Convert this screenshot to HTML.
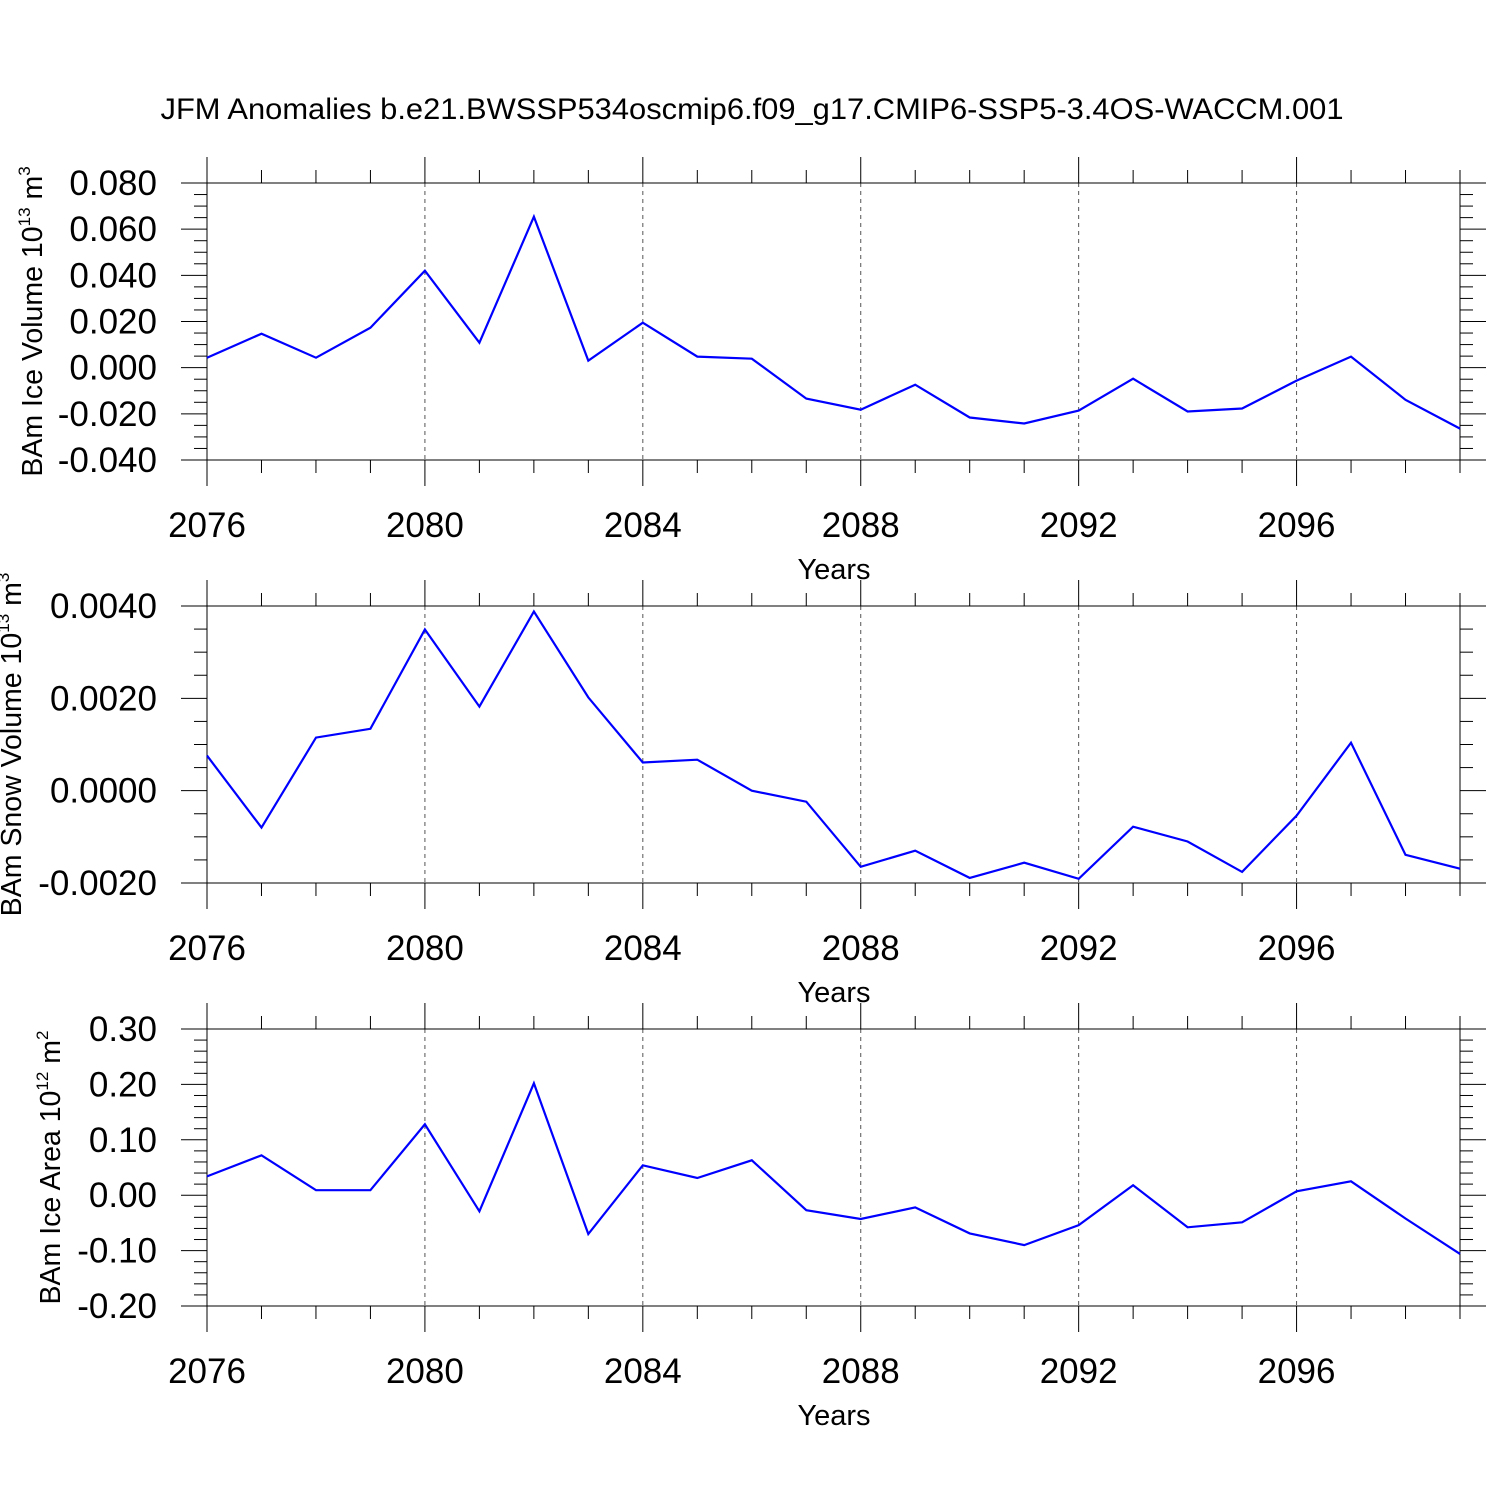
<!DOCTYPE html>
<html><head><meta charset="utf-8"><style>
html,body{margin:0;padding:0;background:#fff;}
svg{display:block;font-family:"Liberation Sans",sans-serif;}
</style></head><body>
<svg id="chart" width="1500" height="1500" viewBox="0 0 1500 1500" xmlns="http://www.w3.org/2000/svg">
<rect width="1500" height="1500" fill="#fff"/>
<text x="752" y="119" font-size="30" text-anchor="middle" textLength="1183" lengthAdjust="spacingAndGlyphs">JFM Anomalies b.e21.BWSSP534oscmip6.f09_g17.CMIP6-SSP5-3.4OS-WACCM.001</text>
</svg>
<script>
const years = [2076,2077,2078,2079,2080,2081,2082,2083,2084,2085,2086,2087,2088,2089,2090,2091,2092,2093,2094,2095,2096,2097,2098,2099];
const xTickLabels = ["2076","2080","2084","2088","2092","2096"];
const iceVolume = [0.0043,0.0147,0.0043,0.0173,0.042,0.0108,0.0654,0.003,0.0195,0.0048,0.0039,-0.0134,-0.0182,-0.0074,-0.0216,-0.0242,-0.0186,-0.0048,-0.019,-0.0177,-0.0056,0.0048,-0.0139,-0.0264];
const snowVolume = [0.00076,-0.0008,0.00115,0.00134,0.00349,0.00182,0.00388,0.00202,0.00061,0.00067,0,-0.00024,-0.00165,-0.0013,-0.00189,-0.00156,-0.00191,-0.00078,-0.0011,-0.00176,-0.00054,0.00104,-0.00139,-0.00169];
const iceArea = [0.034,0.072,0.009,0.009,0.128,-0.029,0.202,-0.07,0.054,0.031,0.063,-0.027,-0.043,-0.022,-0.069,-0.09,-0.054,0.018,-0.058,-0.049,0.007,0.025,-0.042,-0.106];
const iceVolTicks = ["0.080","0.060","0.040","0.020","0.000","-0.020","-0.040"];
const snowTicks = ["0.0040","0.0020","0.0000","-0.0020"];
const areaTicks = ["0.30","0.20","0.10","0.00","-0.10","-0.20"];

const NS="http://www.w3.org/2000/svg";
const svg=document.getElementById('chart');
const X0=207,X1=1460;
function xs(y){return X0+(y-2076)/(2099-2076)*(X1-X0);}
function mk(tag,attrs,parent){const e=document.createElementNS(NS,tag);for(const k in attrs)e.setAttribute(k,attrs[k]);(parent||svg).appendChild(e);return e;}

function panel(name,top,bot,ymin,ymax,major,nminor,ticks,vals,titleParts){
  const g=mk('g',{});
  
  
  const ys=v=>bot-(v-ymin)/(ymax-ymin)*(bot-top);
  for(let y=2080;y<=2096;y+=4){
    const l=mk('line',{x1:xs(y),x2:xs(y),y1:top,y2:bot,stroke:'#555','stroke-width':1,'stroke-dasharray':'4,4'},g);
    
    
  }
  for(let y=2076;y<=2099;y++){
    const len=(y-2076)%4===0?26:13;
    mk('line',{x1:xs(y),x2:xs(y),y1:top,y2:top-len,stroke:'#000','stroke-width':1},g);
    mk('line',{x1:xs(y),x2:xs(y),y1:bot,y2:bot+len,stroke:'#000','stroke-width':1},g);
  }
  xTickLabels.forEach(s=>{
    const t=mk('text',{x:xs(+s),y:bot+77,'font-size':35,'text-anchor':'middle'},g);
    t.textContent=s;
    
    
  });
  const xt=mk('text',{x:834,y:bot+119,'font-size':29,'text-anchor':'middle'},g);
  xt.textContent='Years';
  
  
  const step=major/nminor;const n=Math.round((ymax-ymin)/step);
  for(let i=0;i<=n;i++){
    const v=ymin+i*step;const yy=ys(v);const len=i%nminor===0?26:13;
    mk('line',{x1:X0,x2:X0-len,y1:yy,y2:yy,stroke:'#000','stroke-width':1},g);
    mk('line',{x1:X1,x2:X1+len,y1:yy,y2:yy,stroke:'#000','stroke-width':1},g);
  }
  ticks.forEach(s=>{
    const t=mk('text',{x:157,y:ys(+s)+12,'font-size':35,'text-anchor':'end'},g);
    t.textContent=s;
    
    
  });
  mk('rect',{x:X0,y:top,width:X1-X0,height:bot-top,fill:'none',stroke:'#000','stroke-width':1},g);
  const pts=vals.map((v,i)=>xs(years[i]).toFixed(1)+','+ys(v).toFixed(1)).join(' ');
  const pl=mk('polyline',{points:pts,fill:'none',stroke:'#0000ff','stroke-width':2.2},g);
  
  
  const cy=(top+bot)/2;
  const yt=mk('text',{x:titleParts.x,y:cy,'font-size':28.5,'text-anchor':'middle',transform:'rotate(-90 '+titleParts.x+' '+cy+')'},g);
  
  
  yt.innerHTML=titleParts.a+' 10<tspan dy="-12" font-size="17">'+titleParts.e+'</tspan><tspan dy="12"> '+titleParts.u+'</tspan><tspan dy="-12" font-size="17">'+titleParts.p+'</tspan>';
}
panel('ice-volume',183,460,-0.04,0.08,0.02,4,iceVolTicks,iceVolume,{x:42,a:'BAm Ice Volume',e:'13',u:'m',p:'3'});
panel('snow-volume',606,883,-0.002,0.004,0.002,4,snowTicks,snowVolume,{x:21,a:'BAm Snow Volume',e:'13',u:'m',p:'3'});
panel('ice-area',1029,1306,-0.2,0.3,0.1,5,areaTicks,iceArea,{x:60,a:'BAm Ice Area',e:'12',u:'m',p:'2'});
</script>
</body></html>
